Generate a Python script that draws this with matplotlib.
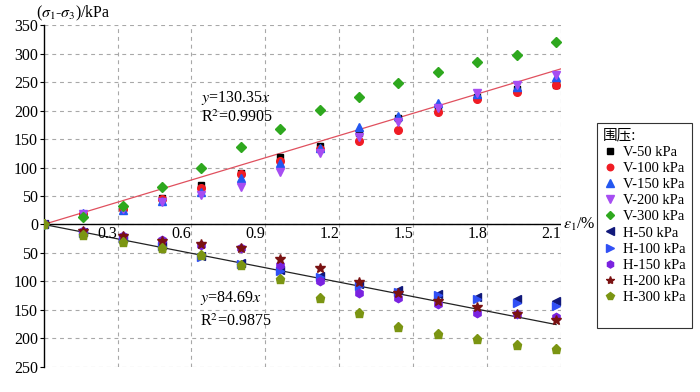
import matplotlib.pyplot as plt
import numpy as np
from matplotlib.patches import Rectangle

plt.rcParams['font.family'] = ['Liberation Serif', 'DejaVu Serif']
plt.rcParams['mathtext.fontset'] = 'stix'

# axial strain (%)
strain = [0, 0.16, 0.32, 0.48, 0.64, 0.80, 0.96, 1.12, 1.28, 1.44, 1.60, 1.76, 1.92, 2.08]

# vertical samples (deviator stress, kPa)
v_50 = [0, 16, 29, 47, 70, 91, 119, 138, 161, 188, 206, 224, 238, 246]
v_100 = [0, 18, 28, 44, 64, 88, 112, 132, 146, 166, 197, 220, 233, 245]
v_150 = [0, 20, 26, 42, 57, 81, 108, 134, 171, 191, 213, 229, 242, 259]
v_200 = [0, 19, 27, 39, 51, 66, 92, 125, 154, 181, 204, 231, 246, 262]
v_300 = [0, 13, 32, 66, 99, 136, 168, 201, 225, 249, 269, 286, 298, 321]

# horizontal samples (plotted downwards)
h_50 = [0, -14, -24, -36, -55, -68, -80, -91, -104, -115, -122, -127, -131, -134]
h_100 = [0, -15, -25, -38, -57, -70, -82, -93, -108, -119, -125, -131, -138, -143]
h_150 = [0, -12, -20, -28, -36, -42, -72, -100, -120, -129, -140, -155, -158, -162]
h_200 = [0, -11, -21, -30, -35, -42, -61, -77, -102, -121, -134, -146, -158, -169]
h_300 = [0, -18, -31, -41, -53, -72, -96, -129, -156, -180, -192, -202, -212, -219]

labels = ['V-50 kPa', 'V-100 kPa', 'V-150 kPa', 'V-200 kPa', 'V-300 kPa',
          'H-50 kPa', 'H-100 kPa', 'H-150 kPa', 'H-200 kPa', 'H-300 kPa']

slope_v = 130.35
slope_h = -84.69
fit_x = [0, 2.1]
fit_x_h = [0, 2.08]

x_ticks = [0.3, 0.6, 0.9, 1.2, 1.5, 1.8, 2.1]
y_ticks = [-250, -200, -150, -100, -50, 0, 50, 100, 150, 200, 250, 300, 350]


def main():
    fig = plt.figure(figsize=(7, 3.92), dpi=100)
    ax = fig.add_axes([0.0624, 0.065, 0.739, 0.870])

    series = [v_50, v_100, v_150, v_200, v_300, h_50, h_100, h_150, h_200, h_300]
    markers = ['s', 'o', '^', 'v', 'D', '<', '>', 'h', '*', 'p']
    colors = ['#000000', '#f01c24', '#2357f0', '#a64df2', '#2ea81e',
              '#10187a', '#3150f5', '#7a22e0', '#7a1212', '#7b9512']
    sizes = [5, 5.5, 6, 6, 5, 6, 6, 6, 7, 6.5]

    for ys, m, c, s, lab in zip(series, markers, colors, sizes, labels):
        ax.plot(strain, ys, linestyle='none', marker=m, color=c, ms=s,
                label=lab, zorder=3)

    fx = np.array(fit_x)
    fxh = np.array(fit_x_h)
    ax.plot(fx, slope_v * fx, color='#e0505e', lw=0.9, zorder=2)
    ax.plot(fxh, slope_h * fxh, color='#222222', lw=0.9, zorder=2)

    ax.set_xlim(0, 2.1)
    ax.set_ylim(-250, 350)

    for side in ['top', 'right', 'bottom']:
        ax.spines[side].set_visible(False)
    ax.spines['left'].set_linewidth(1.0)
    ax.axhline(0, color='black', lw=1.0, zorder=2)

    ax.set_xticks(x_ticks)
    ax.set_xticklabels([])
    ax.tick_params(axis='x', length=0)
    ax.set_yticks(y_ticks)
    ax.set_yticklabels([str(abs(v)) for v in y_ticks], fontsize=11.5)
    ax.tick_params(axis='y', direction='out', length=3, pad=1)
    ax.grid(True, linestyle=(0, (3.5, 3.5)), color='#a8a8a8', lw=0.8)
    ax.set_axisbelow(True)

    # x tick labels sit just under the zero line
    for t in x_ticks:
        ax.text(t, -3, '{:.1f}'.format(t), ha='right', va='top', fontsize=11.5)

    ax.text(0.64, 222, r'$y$=130.35$x$', fontsize=11.5, va='center')
    ax.text(0.64, 187, r'R$^2$=0.9905', fontsize=11.5, va='center')
    ax.text(0.635, -130, r'$y$=84.69$x$', fontsize=11.5, va='center')
    ax.text(0.635, -172, r'R$^2$=0.9875', fontsize=11.5, va='center')

    ax.text(1.004, 0, r'$\varepsilon_1$/%', transform=ax.get_yaxis_transform(),
            ha='left', va='center', fontsize=11.5)
    fig.text(36 / 700, 1 - 13 / 392, r'($\sigma_1$-$\sigma_3$)/kPa',
             ha='left', va='center', fontsize=11.5)

    ax.legend(loc='upper left', bbox_to_anchor=(597 / 700, 1 - 123 / 392),
              bbox_transform=fig.transFigure, fontsize=10.5,
              title='围压:',
              title_fontproperties={'family': ['Noto Sans CJK SC', 'DejaVu Sans'],
                                    'size': 10.5},
              alignment='left', frameon=False, labelspacing=0.2,
              handlelength=1.0, handletextpad=0.4, borderpad=0.4,
              borderaxespad=0, markerscale=0.85)
    # legend box is taller than its entries in the original
    fig.patches.append(Rectangle((597 / 700, 1 - 328 / 392), 95 / 700, 205 / 392,
                                 transform=fig.transFigure, fill=False,
                                 edgecolor='#333333', lw=0.8))

    fig.savefig('out.png', dpi=100)


if __name__ == '__main__':
    main()
